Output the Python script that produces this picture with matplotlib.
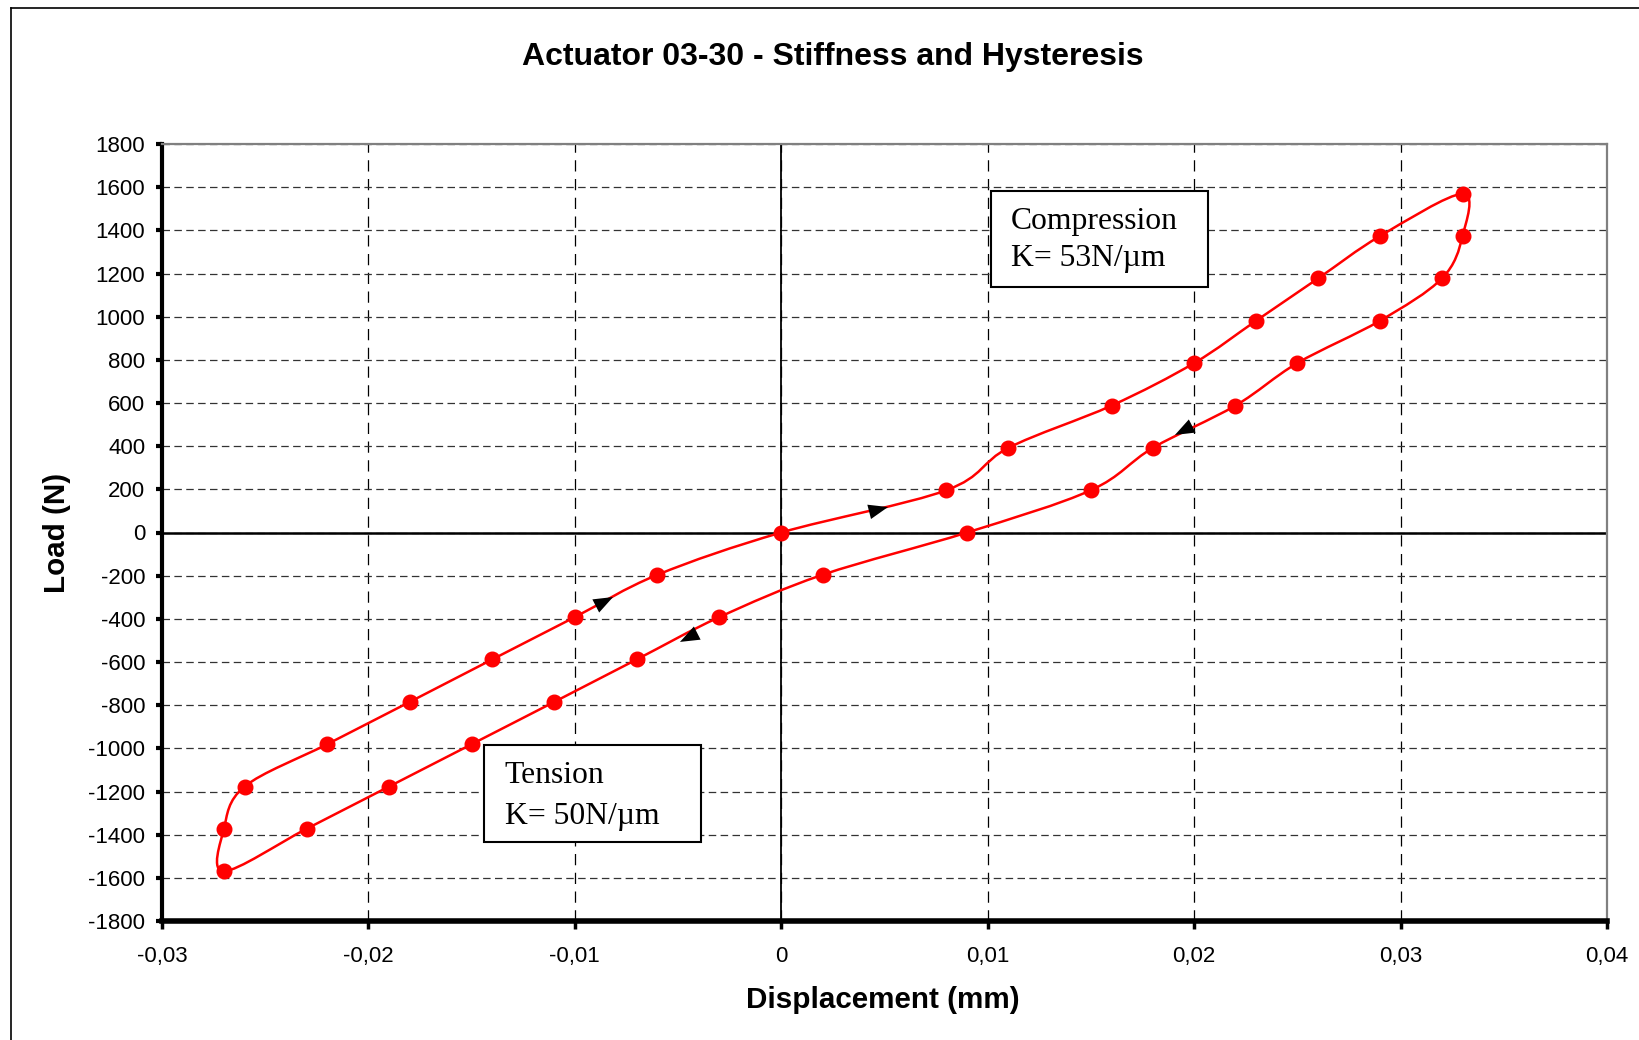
import numpy as np
import matplotlib
matplotlib.use("Agg")
import matplotlib.pyplot as plt
from matplotlib.path import Path
from matplotlib.patches import PathPatch, Rectangle
from matplotlib.lines import Line2D

# ---------------- data ----------------
# one full load cycle: compression loading, unloading, tension loading, unloading
disp = [0.000, 0.008, 0.011, 0.016, 0.020, 0.023, 0.026, 0.029, 0.033,
        0.033, 0.032, 0.029, 0.025, 0.022, 0.018, 0.015, 0.009,
        0.002, -0.003, -0.007, -0.011, -0.015, -0.019, -0.023, -0.027,
        -0.027, -0.026, -0.022, -0.018, -0.014, -0.010, -0.006]
load = [0, 196, 392, 588, 785, 981, 1177, 1373, 1569,
        1373, 1177, 981, 785, 588, 392, 196, 0,
        -196, -392, -588, -785, -981, -1177, -1373, -1569,
        -1373, -1177, -981, -785, -588, -392, -196]

x_ticks = [-0.03, -0.02, -0.01, 0.0, 0.01, 0.02, 0.03, 0.04]
x_tick_labels = ['-0,03', '-0,02', '-0,01', '0', '0,01', '0,02', '0,03', '0,04']
y_ticks = list(range(-1800, 1801, 200))
y_tick_labels = [str(v) for v in y_ticks]

title = "Actuator 03-30 - Stiffness and Hysteresis"
x_label = "Displacement (mm)"
y_label = "Load (N)"
comp_lines = ["Compression", "K= 53N/\u00b5m"]
tens_lines = ["Tension", "K= 50N/\u00b5m"]

# direction arrows (tail, tip) in data units
arrows = [((0.00329, 72), (0.00517, 118)),
          ((0.02079, 537), (0.01907, 452)),
          ((-0.00987, -384), (-0.00815, -299)),
          ((-0.00319, -423), (-0.00491, -507))]

# ---------------- figure ----------------
W, H = 1639, 1040
fig = plt.figure(figsize=(W / 100, H / 100), dpi=100)
fig.patch.set_facecolor('white')
ax = fig.add_axes([162 / W, 1 - 921 / H, 1445 / W, 777 / H])

ax.set_xlim(-0.03, 0.04)
ax.set_ylim(-1800, 1800)

# grid
ax.set_xticks(x_ticks)
ax.set_xticklabels(x_tick_labels)
ax.set_yticks(y_ticks)
ax.set_yticklabels(y_tick_labels)
ax.xaxis.grid(True, color='black', lw=0.9, linestyle=(0, (9, 6)))
ax.yaxis.grid(True, color='#333333', lw=0.9, linestyle=(0, (6, 3.5)))
ax.set_axisbelow(True)

# zero axes
ax.axhline(0, color='black', lw=1.8, zorder=2)
ax.axvline(0, color='black', lw=1.3, zorder=2)

# smoothed closed curve (Excel-like smoothing) through the data points
pts = np.column_stack([disp, load]).astype(float)
n = len(pts)
verts = [pts[0]]
codes = [Path.MOVETO]
for i in range(n):
    p0 = pts[i - 1]
    p1 = pts[i]
    p2 = pts[(i + 1) % n]
    p3 = pts[(i + 2) % n]
    c1 = p1 + (p2 - p0) / 6.0
    c2 = p2 - (p3 - p1) / 6.0
    verts += [c1, c2, p2]
    codes += [Path.CURVE4] * 3
curve = PathPatch(Path(verts, codes), facecolor='none', edgecolor='#ff0000',
                  lw=1.8, zorder=3)
ax.add_patch(curve)

ax.plot(disp, load, linestyle='none', marker='o', ms=10.5, color='#ff0000',
        markeredgecolor='#ff0000', zorder=4)

for tail, tip in arrows:
    ax.annotate('', xy=tip, xytext=tail,
                arrowprops=dict(arrowstyle='-|>,head_length=1.0,head_width=0.38',
                                mutation_scale=14, color='black', lw=0,
                                shrinkA=0, shrinkB=0), zorder=5)

# text boxes
serif = ['Liberation Serif', 'DejaVu Serif']
ax.add_patch(Rectangle((0.5737, 0.8160), 0.7239 - 0.5737, 0.9395 - 0.8160,
                       transform=ax.transAxes, facecolor='white',
                       edgecolor='black', lw=1.5, zorder=6))
for txt, yy in zip(comp_lines, [0.9009, 0.8520]):
    ax.text(0.5874, yy, txt, transform=ax.transAxes, ha='left',
            va='center', family=serif, fontsize=22.8, zorder=7)
ax.add_patch(Rectangle((0.2228, 0.1017), 0.3730 - 0.2228, 0.2265 - 0.1017,
                       transform=ax.transAxes, facecolor='white',
                       edgecolor='black', lw=1.5, zorder=6))
for txt, yy in zip(tens_lines, [0.1871, 0.1340]):
    ax.text(0.2373, yy, txt, transform=ax.transAxes, ha='left',
            va='center', family=serif, fontsize=22.8, zorder=7)

# spines
for s in ['top', 'right']:
    ax.spines[s].set_color('#808080')
    ax.spines[s].set_linewidth(1.6)
ax.spines['left'].set_color('black')
ax.spines['left'].set_linewidth(3.0)
ax.spines['bottom'].set_color('black')
ax.spines['bottom'].set_linewidth(4.0)
for s in ax.spines.values():
    s.set_zorder(8)

sans = ['Liberation Sans', 'DejaVu Sans']
ax.tick_params(axis='y', direction='out', length=4, width=3, pad=8,
               labelsize=16, colors='black')
ax.tick_params(axis='x', direction='out', length=6, width=2.5, pad=12,
               labelsize=16, colors='black')
for lab in ax.get_xticklabels() + ax.get_yticklabels():
    lab.set_family(sans)

# titles / labels
fig.text(833 / W, 1 - 57 / H, title, ha='center', va='center',
         family=sans, fontsize=23, fontweight='bold')
fig.text(883 / W, 1 - 1000 / H, x_label, ha='center', va='center',
         family=sans, fontsize=21.3, fontweight='bold')
fig.text(57 / W, 1 - 532.5 / H, y_label, ha='center', va='center',
         rotation=90, family=sans, fontsize=21.3, fontweight='bold')

# outer chart frame
fx = 11 / W
fy = 1 - 8 / H
fig.add_artist(Line2D([fx, fx], [0, fy], transform=fig.transFigure,
                      color='black', lw=1.2))
fig.add_artist(Line2D([fx, 1], [fy, fy], transform=fig.transFigure,
                      color='black', lw=1.2))

fig.savefig('out.png', dpi=100, facecolor='white')
